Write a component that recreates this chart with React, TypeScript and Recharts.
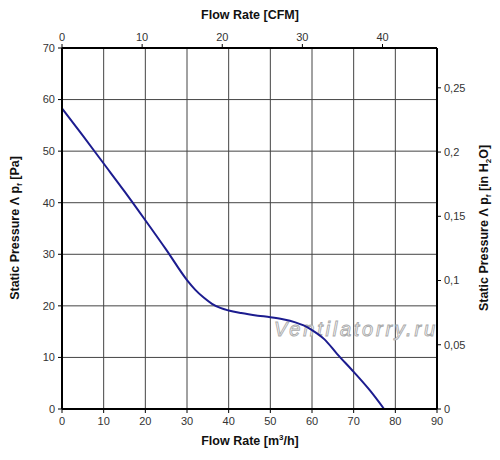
import { LineChart, Line, XAxis, YAxis, CartesianGrid } from 'recharts';

const flowM3h = [0, 5, 10, 15, 20, 25, 30, 32, 34, 36, 38, 40, 43, 47, 50, 53, 56, 58, 60, 63, 66, 70, 74, 77.3];
const pressurePa = [58.3, 53, 47.6, 42.2, 36.6, 30.9, 25.0, 23.1, 21.6, 20.4, 19.6, 19.1, 18.6, 18.1, 17.8, 17.4, 16.8, 16.2, 15.3, 13.5, 10.7, 7.2, 3.5, 0];

const m3hTicks = [0, 10, 20, 30, 40, 50, 60, 70, 80, 90];
const paTicks = [0, 10, 20, 30, 40, 50, 60, 70];
const cfmTicks = [0, 10, 20, 30, 40];
const inH2OTicks = [0, 0.05, 0.1, 0.15, 0.2, 0.25];

const data = flowM3h.map((flow, i) => ({ flow, pressure: pressurePa[i] }));

const font = '"Liberation Sans", Arial, sans-serif';
const tickStyle = { fontSize: 11, fill: '#333', fontFamily: font };
const border = { stroke: '#000', strokeWidth: 2 };
const tickLine = { stroke: '#000', strokeWidth: 1 };

export default function App() {
  return (
    <div style={{ position: 'absolute', left: 0, top: 0, width: 500, height: 460, background: '#fff' }}>
      <LineChart width={500} height={460} data={data} margin={{ top: 0, right: 0, bottom: 0, left: 0 }}>
        <CartesianGrid
          xAxisId="m3h"
          yAxisId="pa"
          stroke="#444"
          strokeWidth={1}
          verticalValues={m3hTicks}
          horizontalValues={paTicks}
        />
        <XAxis
          xAxisId="m3h"
          dataKey="flow"
          type="number"
          domain={[0, 90]}
          ticks={m3hTicks}
          height={51}
          tick={tickStyle}
          tickSize={4}
          tickMargin={4}
          axisLine={border}
          tickLine={tickLine}
        />
        <XAxis
          xAxisId="cfm"
          dataKey="flow"
          orientation="top"
          type="number"
          domain={[0, 46.8]}
          allowDataOverflow
          ticks={cfmTicks}
          height={48}
          tick={tickStyle}
          tickSize={4}
          tickMargin={3}
          axisLine={border}
          tickLine={tickLine}
        />
        <YAxis
          yAxisId="pa"
          type="number"
          domain={[0, 70]}
          ticks={paTicks}
          width={62}
          tick={tickStyle}
          tickSize={4}
          tickMargin={3}
          axisLine={border}
          tickLine={tickLine}
        />
        <YAxis
          yAxisId="inh2o"
          orientation="right"
          type="number"
          domain={[0, 0.281]}
          allowDataOverflow
          ticks={inH2OTicks}
          width={63}
          tick={tickStyle}
          tickSize={4}
          tickMargin={3}
          axisLine={border}
          tickLine={tickLine}
          tickFormatter={(v: number) => String(v).replace('.', ',')}
        />
        <text
          x={274}
          y={336}
          fontFamily={font}
          fontStyle="italic"
          fontSize={20}
          textLength={161}
          fill="#fff"
          stroke="#aaa"
          strokeWidth={0.9}
        >
          Ventilatorry.ru
        </text>
        {/* hidden series so the secondary axes get a scale */}
        <Line
          xAxisId="cfm"
          yAxisId="inh2o"
          dataKey="pressure"
          stroke="none"
          dot={false}
          activeDot={false}
          legendType="none"
          isAnimationActive={false}
        />
        <Line
          xAxisId="m3h"
          yAxisId="pa"
          type="monotone"
          dataKey="pressure"
          stroke="#1c1c8f"
          strokeWidth={2}
          dot={false}
          isAnimationActive={false}
        />
        <text x={250} y={19} textAnchor="middle" fontFamily={font} fontWeight="bold" fontSize={12.5} fill="#111">
          Flow Rate [CFM]
        </text>
        <text x={250} y={445} textAnchor="middle" fontFamily={font} fontWeight="bold" fontSize={12.5} fill="#111">
          Flow Rate [m<tspan fontSize={8} dy={-5}>3</tspan>
          <tspan dy={5}>/h]</tspan>
        </text>
        <text
          transform="translate(19, 228) rotate(-90)"
          textAnchor="middle"
          fontFamily={font}
          fontWeight="bold"
          fontSize={12.5}
          fill="#111"
        >
          Static Pressure Λ p<tspan fontSize={8} dy={3}>f</tspan>
          <tspan dy={-3}> [Pa]</tspan>
        </text>
        <text
          transform="translate(488, 228) rotate(-90)"
          textAnchor="middle"
          fontFamily={font}
          fontWeight="bold"
          fontSize={12.5}
          fill="#111"
        >
          Static Pressure Λ p<tspan fontSize={8} dy={3}>f</tspan>
          <tspan dy={-3}> [in H</tspan>
          <tspan fontSize={8} dy={3}>2</tspan>
          <tspan dy={-3}>O]</tspan>
        </text>
      </LineChart>
    </div>
  );
}
